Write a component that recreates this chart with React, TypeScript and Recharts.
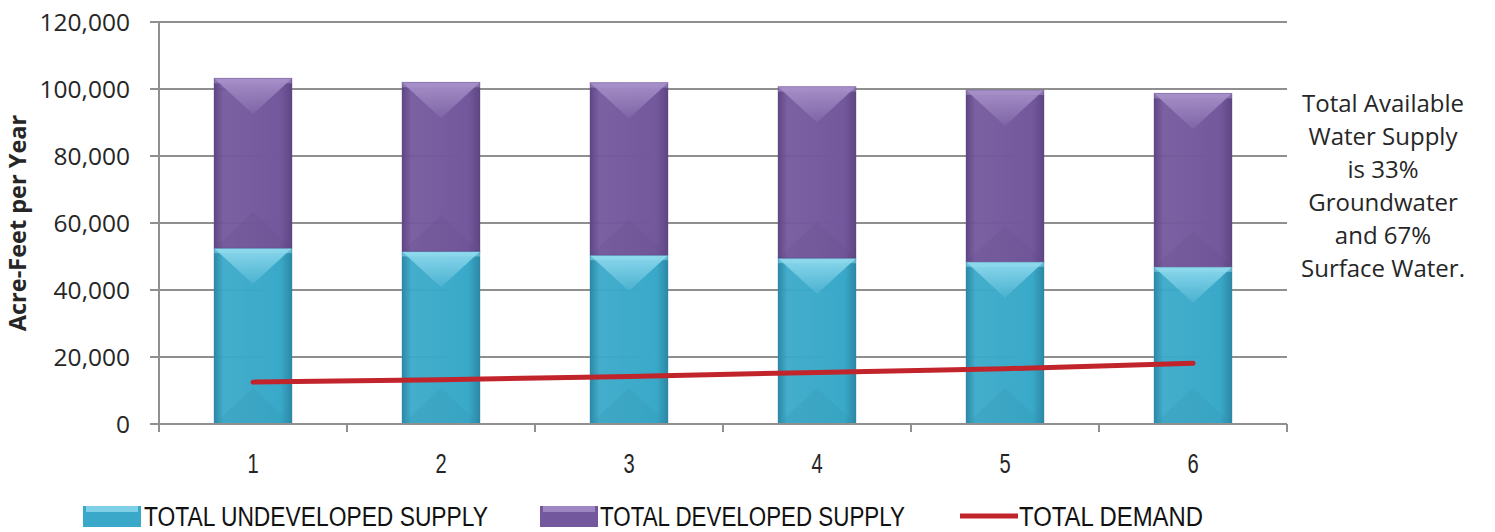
import {
  ComposedChart,
  Bar,
  Line,
  XAxis,
  YAxis,
  CartesianGrid,
  Legend,
} from "recharts";

// Acre-feet per year, by period
const periods = ["1", "2", "3", "4", "5", "6"];
const undevelopedSupply = [52500, 51500, 50400, 49500, 48400, 46900];
const developedSupply = [50700, 50500, 51500, 51200, 51300, 51800];
const totalDemand = [12500, 13200, 14200, 15400, 16500, 18100];
const yTicks = [0, 20000, 40000, 60000, 80000, 100000, 120000];

const noteLines = [
  "Total Available",
  "Water Supply",
  "is 33%",
  "Groundwater",
  "and 67%",
  "Surface Water.",
];

const legendItems = [
  { key: "undeveloped", label: "TOTAL UNDEVELOPED SUPPLY", kind: "bar", iconX: 83, textX: 144, textW: 344 },
  { key: "developed", label: "TOTAL DEVELOPED SUPPLY", kind: "bar", iconX: 540, textX: 600, textW: 305 },
  { key: "demand", label: "TOTAL DEMAND", kind: "line", iconX: 960, textX: 1019, textW: 184 },
];

const W = 1495;
const H = 532;
const PLOT_LEFT = 159;
const PLOT_RIGHT = 1287;
const BAND = (PLOT_RIGHT - PLOT_LEFT) / periods.length;
const LEGEND_H = 48;

const GRID = "#8f8f8f";
const TEXT = "#262626";
const RED = "#c1242b";

const palette = {
  undeveloped: { dark: "#2b88a5", base: "#3aa9c9", light: "#8fdaee" },
  developed: { dark: "#5e4683", base: "#74589d", light: "#a892ca" },
};

const chartData = periods.map((p, i) => ({
  period: p,
  undeveloped: undevelopedSupply[i],
  developed: developedSupply[i],
  demand: totalDemand[i],
}));

function BevelBar(props: any, key: "undeveloped" | "developed") {
  const { x, y, width, height } = props;
  if (!height || height <= 0) return <g />;
  const c = palette[key];
  const d = Math.min(width * 0.46, height / 2);
  return (
    <g>
      <rect x={x} y={y} width={width} height={height} fill={`url(#side-${key})`} />
      <polygon
        points={`${x},${y} ${x + width},${y} ${x + width / 2},${y + d}`}
        fill={`url(#top-${key})`}
      />
      <rect x={x} y={y} width={width} height={5} fill={c.light} opacity={0.55} />
      <polygon
        points={`${x},${y + height} ${x + width},${y + height} ${x + width / 2},${y + height - d}`}
        fill={c.dark}
        opacity={0.14}
      />
      <rect x={x} y={y} width={width} height={height} fill="none" stroke={c.dark} strokeOpacity={0.35} />
    </g>
  );
}

function XTick(props: any) {
  const { x, y, payload, index } = props;
  const left = x - BAND / 2;
  return (
    <g>
      <line x1={left} y1={y - 8} x2={left} y2={y} stroke={GRID} strokeWidth={2} />
      {index === periods.length - 1 && (
        <line x1={x + BAND / 2} y1={y - 8} x2={x + BAND / 2} y2={y} stroke={GRID} strokeWidth={2} />
      )}
      <text
        transform={`translate(${x},${y + 41}) scale(0.72,1)`}
        textAnchor="middle"
        fontFamily="Liberation Sans"
        fontSize={28}
        fill={TEXT}
      >
        {payload.value}
      </text>
    </g>
  );
}

function YLabel(props: any) {
  const vb = props.viewBox || { x: 0, y: 0, width: 0, height: 0 };
  const cx = vb.x + 17;
  const cy = vb.y + vb.height / 2;
  return (
    <text
      x={cx}
      y={cy}
      transform={`rotate(-90, ${cx}, ${cy})`}
      textAnchor="middle"
      dominantBaseline="central"
      fontFamily="Open Sans"
      fontWeight={700}
      fontSize={23.5}
      fill={TEXT}
    >
      Acre-Feet per Year
    </text>
  );
}

function renderLegend() {
  return (
    <svg width={W} height={LEGEND_H} style={{ display: "block" }}>
      {legendItems.map((it) => {
        const icon =
          it.kind === "line" ? (
            <line x1={it.iconX} y1={32} x2={it.iconX + 58} y2={32} stroke={RED} strokeWidth={5} />
          ) : (
            <g>
              <rect x={it.iconX} y={22} width={58} height={21} fill={palette[it.key as "developed"].base} />
              <rect x={it.iconX + 3} y={22} width={52} height={6} fill={palette[it.key as "developed"].light} opacity={0.8} />
            </g>
          );
        return (
          <g key={it.key}>
            {icon}
            <text
              x={it.textX}
              y={42}
              textLength={it.textW}
              lengthAdjust="spacingAndGlyphs"
              fontFamily="Liberation Sans"
              fontSize={27}
              fill="#111"
            >
              {it.label}
            </text>
          </g>
        );
      })}
    </svg>
  );
}

export default function App() {
  return (
    <div style={{ position: "absolute", left: 0, top: 0, width: W, height: H, background: "#fff" }}>
      <ComposedChart
        width={W}
        height={H}
        data={chartData}
        margin={{ top: 22, right: W - PLOT_RIGHT, bottom: 0, left: 0 }}
        barSize={78}
      >
        <defs>
          {(["undeveloped", "developed"] as const).map((k) => (
            <g key={k}>
              <linearGradient id={`side-${k}`} x1="0" y1="0" x2="1" y2="0">
                <stop offset="0%" stopColor={palette[k].dark} />
                <stop offset="12%" stopColor={palette[k].base} stopOpacity={0.95} />
                <stop offset="85%" stopColor={palette[k].base} />
                <stop offset="100%" stopColor={palette[k].dark} />
              </linearGradient>
              <linearGradient id={`top-${k}`} x1="0" y1="0" x2="0" y2="1">
                <stop offset="0%" stopColor={palette[k].light} stopOpacity={0.95} />
                <stop offset="100%" stopColor={palette[k].light} stopOpacity={0.15} />
              </linearGradient>
            </g>
          ))}
        </defs>
        <CartesianGrid vertical={false} stroke={GRID} strokeWidth={2} />
        <XAxis
          dataKey="period"
          height={60}
          axisLine={{ stroke: GRID, strokeWidth: 2 }}
          tickLine={false}
          tick={<XTick />}
          interval={0}
        />
        <YAxis
          width={PLOT_LEFT}
          domain={[0, 120000]}
          ticks={yTicks}
          tickFormatter={(v: number) => v.toLocaleString("en-US")}
          axisLine={{ stroke: GRID, strokeWidth: 2 }}
          tickLine={{ stroke: GRID, strokeWidth: 2 }}
          tickSize={9}
          tickMargin={20}
          tick={{ fill: TEXT, fontFamily: "Open Sans", fontSize: 24.5 }}
          label={<YLabel />}
        />
        <Legend
          verticalAlign="bottom"
          content={renderLegend}
          wrapperStyle={{ left: 0, top: H - LEGEND_H, width: W, height: LEGEND_H }}
        />
        <Bar
          dataKey="undeveloped"
          stackId="supply"
          name="TOTAL UNDEVELOPED SUPPLY"
          fill={palette.undeveloped.base}
          shape={(p: any) => BevelBar(p, "undeveloped")}
          isAnimationActive={false}
        />
        <Bar
          dataKey="developed"
          stackId="supply"
          name="TOTAL DEVELOPED SUPPLY"
          fill={palette.developed.base}
          shape={(p: any) => BevelBar(p, "developed")}
          isAnimationActive={false}
        />
        <Line
          type="linear"
          dataKey="demand"
          name="TOTAL DEMAND"
          stroke={RED}
          strokeWidth={5}
          strokeLinecap="round"
          dot={false}
          activeDot={false}
          isAnimationActive={false}
        />
      </ComposedChart>
      <div
        style={{
          position: "absolute",
          left: 1285,
          top: 86,
          width: 196,
          textAlign: "center",
          fontFamily: "Open Sans",
          fontSize: 24,
          lineHeight: "33px",
          color: TEXT,
        }}
      >
        {noteLines.map((t) => (
          <div key={t}>{t}</div>
        ))}
      </div>
    </div>
  );
}
